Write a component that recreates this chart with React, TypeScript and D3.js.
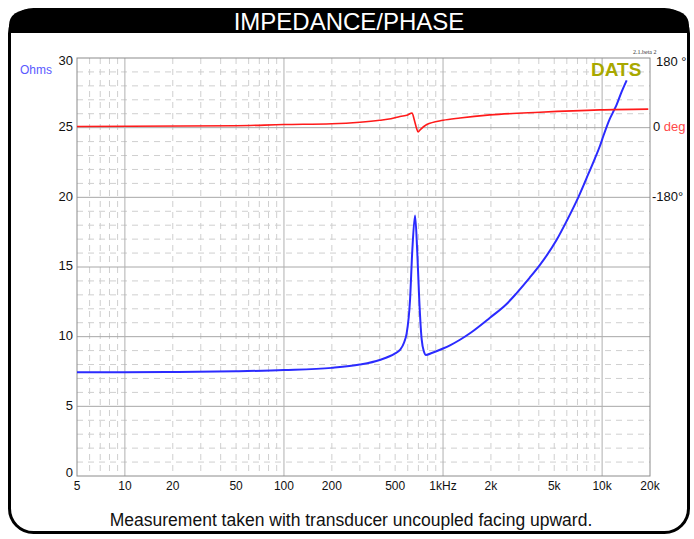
import * as d3 from "d3";

const impFreq = [5, 10, 20, 50, 100, 200, 300, 400, 500, 536, 570, 591, 620, 641, 667, 689, 709, 734, 760, 781, 850, 1000, 1106, 1278, 1500, 1973, 2500, 2903, 3500, 4066, 5180, 5985, 7082, 8000, 9016, 9700, 10180, 11140, 11700, 12290, 13180, 14270];
const impOhms = [7.45, 7.45, 7.47, 7.52, 7.6, 7.76, 8.0, 8.33, 8.8, 9.05, 9.6, 10.25, 12.6, 16.2, 18.7, 16.0, 12.6, 9.8, 8.9, 8.69, 8.83, 9.15, 9.38, 9.78, 10.3, 11.36, 12.33, 13.13, 14.22, 15.15, 16.95, 18.3, 20.0, 21.4, 22.8, 23.7, 24.4, 25.6, 26.1, 26.6, 27.5, 28.4];

const phaseFreq = [5, 50, 100, 200, 300, 400, 470, 536, 600, 638, 660, 680, 697, 720, 790, 1000, 1278, 1973, 4066, 9700, 19500];
const phaseDeg = [3, 5, 8, 10, 14, 19, 23, 29, 33, 38, 20, 0, -11, -5, 8, 19, 25, 33, 40, 46, 48];

const xTickValues = [5, 10, 20, 50, 100, 200, 500, 1000, 2000, 5000, 10000, 20000];
const xTickLabels = ["5", "10", "20", "50", "100", "200", "500", "1kHz", "2k", "5k", "10k", "20k"];
const yTickValues = [0, 5, 10, 15, 20, 25, 30];

const W = 694;
const H = 539;
const left = 77, right = 650, top = 58, bottom = 476;
const font = "'Liberation Sans', Arial, Helvetica, sans-serif";

export default function App() {
  const x = d3.scaleLog().domain([5, 20000]).range([left, right]);
  const y = d3.scaleLinear().domain([0, 30]).range([bottom, top]);
  // phase axis: 180 deg at 30 ohm, 0 deg at 25 ohm, -180 deg at 20 ohm
  const yPhase = d3.scaleLinear().domain([-180, 180]).range([y(20), y(30)]);

  const minorX = x.ticks().filter((t) => {
    const m = t / Math.pow(10, Math.floor(Math.log10(t) + 1e-9));
    return Math.abs(m - 1) > 1e-6 && t > 5 && t < 20000;
  });
  const majorX = [10, 100, 1000, 10000];
  const hLines = y.ticks(30);

  const impLine = d3
    .line<number>()
    .x((_, i) => x(impFreq[i]))
    .y((d) => y(d))
    .curve(d3.curveMonotoneX);
  const phaseLine = d3
    .line<number>()
    .x((_, i) => x(phaseFreq[i]))
    .y((d) => yPhase(d))
    .curve(d3.curveMonotoneX);

  return (
    <svg width={W} height={H} style={{ position: "absolute", left: 0, top: 0 }} fontFamily={font}>
      <rect width={W} height={H} fill="#fff" />
      {/* frame */}
      <path d="M9,33 L9,26 Q9,9 34,9 L664,9 Q689,9 689,26 L689,33 Z" fill="#000" />
      <rect x={9.5} y={9.5} width={679} height={523} rx={24} fill="none" stroke="#000" strokeWidth={3} />
      <text x={349} y={30} textAnchor="middle" fill="#fff" fontSize={24} fontFamily="'Liberation Sans Narrow', 'Liberation Sans', Arial, sans-serif">
        IMPEDANCE/PHASE
      </text>

      {/* grid */}
      {hLines.filter((v) => v % 5 !== 0).map((v) => (
        <line key={"h" + v} x1={left} x2={right} y1={y(v)} y2={y(v)} stroke="#cfcfcf" strokeDasharray="6,5" />
      ))}
      {minorX.map((v) => (
        <line key={"v" + v} x1={x(v)} x2={x(v)} y1={top} y2={bottom} stroke="#cfcfcf" strokeDasharray="6,5" />
      ))}
      {hLines.filter((v) => v % 5 === 0 && v > 0 && v < 30).map((v) => (
        <line key={"H" + v} x1={left} x2={right} y1={y(v)} y2={y(v)} stroke="#a8a8a8" />
      ))}
      {majorX.map((v) => (
        <line key={"V" + v} x1={x(v)} x2={x(v)} y1={top} y2={bottom} stroke="#b0b0b0" />
      ))}
      <rect x={left} y={top} width={right - left} height={bottom - top} fill="none" stroke="#8c8c8c" />

      {/* left axis */}
      {yTickValues.map((v) => (
        <text key={"yl" + v} x={73} y={y(v) + (v === 30 ? 4 : v === 0 ? -2 : 0)} textAnchor="end" dominantBaseline="middle" fontSize={13} fill="#111">
          {v}
        </text>
      ))}
      <text x={20} y={71} dominantBaseline="middle" fontSize={12} fill="#5a5aff">Ohms</text>

      {/* bottom axis */}
      {xTickValues.map((v, i) => (
        <text key={"xl" + v} x={x(v)} y={487} textAnchor="middle" dominantBaseline="middle" fontSize={12} fill="#111">
          {xTickLabels[i]}
        </text>
      ))}

      {/* right axis */}
      <text x={656} y={yPhase(180) + 5} dominantBaseline="middle" fontSize={13} fill="#111">180 °</text>
      <text x={653} y={yPhase(0)} dominantBaseline="middle" fontSize={13} fill="#111">
        0 <tspan fill="#ff4a4a">deg</tspan>
      </text>
      <text x={652} y={yPhase(-180)} dominantBaseline="middle" fontSize={13} fill="#111">-180°</text>

      <text x={633} y={54} fontSize={6} fontFamily="'Liberation Serif', serif" fill="#333">2.1.beta 2</text>
      <text x={591} y={76} fontSize={19} fontWeight="bold" fill="#a8a800">DATS</text>

      {/* data */}
      <path d={impLine(impOhms) ?? ""} fill="none" stroke="#2b2bff" strokeWidth={2} />
      <path d={phaseLine(phaseDeg) ?? ""} fill="none" stroke="#ff1a1a" strokeWidth={1.6} />

      <text x={351} y={521} textAnchor="middle" dominantBaseline="middle" fontSize={17.5} fill="#111">
        Measurement taken with transducer uncoupled facing upward.
      </text>
    </svg>
  );
}
